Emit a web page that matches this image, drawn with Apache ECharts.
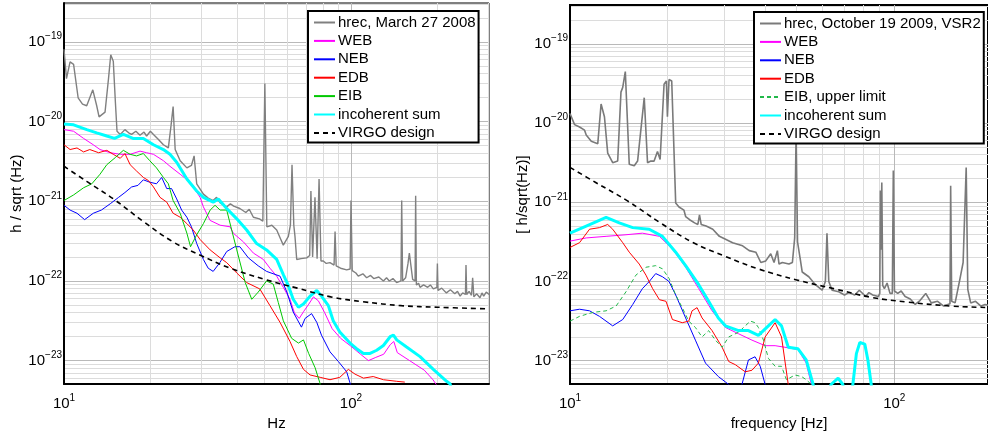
<!DOCTYPE html>
<html>
<head>
<meta charset="utf-8">
<script src="https://cdn.jsdelivr.net/npm/echarts@6/dist/echarts.min.js"></script>
<style>
html, body { margin: 0; padding: 0; background: #fff; }
#chart { width: 988px; height: 436px; }
</style>
</head>
<body>
<div id="chart"></div>
<script>
// Each curve is a list of [frequency in Hz, log10 of h/sqrt(Hz)]

// --- left panel, March 27 2008 ---
const hrec2008 = [[10.0,-19.09],[10.2,-19.46],[10.5,-19.25],[10.8,-19.28],[11.2,-19.70],[11.6,-19.78],[12.0,-19.80],[12.6,-19.60],[13.0,-19.80],[13.25,-19.94],[13.9,-19.88],[14.3,-19.45],[14.55,-19.16],[14.85,-19.24],[15.1,-19.75],[15.3,-20.12],[15.7,-20.16],[16.3,-20.10],[16.8,-20.14],[17.2,-20.16],[17.8,-20.12],[18.4,-20.17],[19.0,-20.13],[19.4,-20.18],[20.0,-20.12],[20.5,-20.16],[21.3,-20.22],[22.2,-20.29],[23.1,-20.33],[23.6,-20.05],[24.0,-19.81],[24.4,-20.35],[25.4,-20.49],[26.8,-20.58],[27.8,-20.55],[28.4,-20.43],[29.0,-20.78],[30.6,-20.91],[31.8,-20.96],[33.1,-20.99],[34.0,-20.95],[35.0,-21.02],[36.9,-21.07],[38.0,-21.03],[39.0,-21.06],[41.0,-21.09],[43.0,-21.14],[44.2,-21.10],[45.7,-21.20],[48.0,-21.22],[49.3,-21.25],[50.1,-19.52],[50.9,-21.32],[53.0,-21.30],[55.1,-21.36],[56.5,-21.45],[58.1,-21.55],[60.5,-21.44],[61.5,-21.30],[62.3,-20.54],[63.2,-21.30],[63.8,-21.44],[64.7,-21.73],[67.0,-21.72],[70.1,-21.71],[71.8,-21.68],[72.5,-20.87],[73.5,-21.70],[74.9,-20.95],[76.2,-21.72],[77.4,-20.72],[78.6,-21.75],[80.1,-21.75],[82.0,-21.78],[84.5,-21.77],[87.3,-21.80],[88.0,-21.38],[88.8,-21.81],[92.0,-21.84],[96.6,-21.86],[99.3,-21.85],[100,-20.99],[101,-21.87],[104,-21.90],[106,-21.94],[110,-21.91],[113.4,-21.96],[117,-21.93],[120,-21.97],[125,-21.95],[129.7,-22.00],[133,-21.96],[136,-22.00],[140,-21.97],[144.2,-22.02],[149.3,-22.00],[150.2,-20.99],[151.3,-22.00],[155,-21.96],[158,-21.78],[159.7,-21.65],[161,-21.75],[164,-21.98],[167.2,-22.00],[168,-20.93],[169,-22.05],[172,-22.03],[174,-22.08],[179,-22.05],[185,-22.08],[189,-22.05],[193.6,-22.10],[199.2,-22.08],[200,-21.78],[201,-22.12],[207,-22.09],[215,-22.15],[222,-22.11],[230,-22.16],[235,-22.13],[240,-22.19],[245,-22.15],[250.5,-22.17],[251.6,-21.80],[253,-22.17],[258,-22.13],[263,-22.18],[265.4,-21.96],[268,-22.20],[274,-22.16],[281.5,-22.21],[286,-22.15],[290,-22.19],[296,-22.14],[303,-22.17]];
const web2008 = [[10,-20.10],[10.8,-20.12],[11.7,-20.21],[12.65,-20.29],[13.35,-20.35],[14.5,-20.39],[15.7,-20.41],[17.0,-20.41],[18.4,-20.37],[19.4,-20.39],[20.5,-20.41],[22.2,-20.49],[23.4,-20.56],[25.4,-20.66],[27.5,-20.76],[29.8,-20.95],[30.6,-21.07],[32.3,-21.24],[35.0,-21.30],[37.9,-21.32],[38.9,-21.40],[42.2,-21.51],[45.7,-21.65],[49.5,-21.73],[52.2,-21.84],[55.1,-21.94],[58.1,-22.08],[61.3,-22.23],[63.5,-22.40],[66.0,-22.47],[68.5,-22.38],[71.0,-22.30],[74.0,-22.20],[77.0,-22.25],[81.0,-22.40],[86.0,-22.60],[92.0,-22.72],[100,-22.82],[108,-22.92],[115,-23.00],[122,-22.96],[130,-22.92],[137,-22.80],[141,-22.76],[145,-22.90],[160,-23.00],[180,-23.12],[193,-23.24],[200,-23.32]];
const neb2008 = [[10,-21.05],[10.5,-21.11],[11.1,-21.15],[11.8,-21.23],[12.65,-21.15],[13.5,-21.11],[14.5,-21.03],[15.5,-20.95],[16.3,-20.89],[17.2,-20.82],[18.1,-20.80],[18.9,-20.73],[19.9,-20.76],[21.0,-20.78],[21.9,-20.70],[22.8,-20.84],[23.7,-20.84],[24.7,-20.97],[25.7,-21.11],[26.8,-21.20],[27.8,-21.32],[29.0,-21.53],[30.6,-21.73],[31.8,-21.84],[33.1,-21.88],[34.9,-21.77],[36.9,-21.63],[39.4,-21.57],[41.0,-21.57],[43.9,-21.71],[47.5,-21.81],[50.8,-21.88],[56.6,-21.94],[59.8,-22.14],[62.9,-22.39],[67.2,-22.58],[69.2,-22.47],[72.9,-22.41],[76.0,-22.52],[78.9,-22.68],[84.5,-22.89],[90.3,-23.01],[96.6,-23.14],[99.2,-23.28],[101,-23.4]];
const edb2008 = [[10,-20.29],[10.5,-20.35],[11.1,-20.33],[11.7,-20.38],[12.3,-20.35],[13.2,-20.39],[14.1,-20.36],[14.85,-20.41],[15.7,-20.46],[16.3,-20.40],[17.0,-20.54],[17.9,-20.62],[18.9,-20.70],[19.7,-20.74],[20.5,-20.82],[21.6,-20.95],[22.8,-21.01],[24.0,-21.15],[25.4,-21.20],[26.8,-21.28],[28.2,-21.36],[29.8,-21.48],[32.3,-21.61],[35.0,-21.71],[36.9,-21.77],[40.0,-21.90],[43.3,-22.02],[48.1,-22.10],[52.2,-22.31],[56.6,-22.52],[61.3,-22.76],[64.7,-22.95],[68.3,-23.11],[72.0,-23.18],[78.1,-23.21],[84.5,-23.24],[91.4,-23.21],[97.9,-23.11],[103.3,-23.17],[110.5,-23.22],[119.5,-23.20],[129.7,-23.24],[144.3,-23.26],[154,-23.27]];
const eib2008 = [[10,-20.99],[10.8,-20.92],[11.7,-20.83],[12.5,-20.78],[13.35,-20.66],[14.1,-20.54],[15.1,-20.45],[16.1,-20.36],[17.0,-20.41],[17.9,-20.43],[18.9,-20.40],[19.9,-20.49],[21.0,-20.58],[22.2,-20.70],[23.1,-20.78],[24.0,-20.99],[25.4,-21.15],[26.8,-21.40],[27.6,-21.57],[29.0,-21.42],[30.6,-21.28],[32.3,-21.11],[33.6,-21.05],[35.0,-21.11],[36.9,-21.11],[38.4,-21.36],[40.0,-21.61],[42.8,-22.02],[45.1,-22.23],[47.5,-22.14],[50.8,-22.00],[53.6,-22.04],[55.8,-22.27],[58.1,-22.50],[62.1,-22.72],[65.6,-22.78],[68.3,-22.74],[71.2,-22.91],[75.0,-23.09],[77.9,-23.28],[79,-23.4]];
const sum2008 = [[10,-20.03],[10.8,-20.04],[12.0,-20.10],[13.0,-20.14],[14.1,-20.18],[15.0,-20.21],[16.1,-20.16],[17.4,-20.21],[18.9,-20.21],[20.5,-20.29],[22.2,-20.35],[23.4,-20.41],[24.7,-20.51],[26.8,-20.72],[29.0,-20.87],[30.6,-20.95],[33.1,-21.01],[34.5,-20.97],[36.9,-21.09],[40.0,-21.22],[43.3,-21.36],[46.9,-21.53],[50.8,-21.61],[55.1,-21.73],[58.1,-21.92],[60.5,-22.06],[62.9,-22.23],[65.6,-22.33],[68.3,-22.29],[72.0,-22.19],[76.0,-22.12],[78.9,-22.19],[83.4,-22.31],[86.7,-22.50],[91.4,-22.64],[99.2,-22.78],[104.6,-22.85],[110.5,-22.91],[116.5,-22.91],[122.9,-22.87],[129.7,-22.81],[136.9,-22.70],[140.6,-22.68],[144.3,-22.74],[156.2,-22.83],[174,-22.95],[193.6,-23.11],[215.4,-23.26],[221.3,-23.29],[226,-23.4]];

// --- right panel, October 19 2009, VSR2 ---
const hrec2009 = [[10.0,-19.88],[10.33,-20.02],[10.7,-20.05],[11.09,-20.09],[11.22,-20.15],[11.63,-20.23],[12.18,-20.26],[12.47,-19.76],[12.77,-19.92],[13.07,-20.38],[13.54,-20.50],[14.03,-20.48],[14.36,-19.61],[14.54,-19.55],[14.81,-19.35],[15.23,-20.52],[15.78,-20.54],[16.16,-20.48],[16.35,-20.50],[16.94,-19.68],[17.34,-20.50],[17.75,-20.48],[18.17,-20.48],[18.61,-20.36],[18.96,-20.46],[19.5,-19.51],[19.83,-19.47],[19.97,-19.92],[20.2,-19.45],[20.59,-19.47],[21.18,-21.01],[21.68,-21.06],[22.46,-21.10],[22.73,-21.18],[23.38,-21.22],[24.22,-21.26],[24.79,-21.28],[25.08,-21.16],[25.38,-21.28],[26.29,-21.30],[27.56,-21.34],[28.88,-21.43],[30.28,-21.47],[31.73,-21.51],[32.87,-21.53],[34.06,-21.55],[35.7,-21.61],[37.41,-21.63],[38.76,-21.76],[40.15,-21.74],[41.59,-21.65],[42.58,-21.76],[43.6,-21.61],[44.11,-21.78],[45.16,-21.76],[47.33,-21.78],[48.5,-21.76],[49.3,-21.45],[49.8,-20.1],[50.3,-21.50],[51.2,-21.70],[52.0,-21.88],[54.5,-21.94],[57.1,-22.04],[59.9,-22.11],[61.3,-22.00],[62.0,-21.39],[62.8,-22.00],[64.3,-22.11],[67.4,-22.13],[70.2,-22.17],[72.5,-22.14],[75.5,-22.17],[78.0,-22.11],[81.7,-22.19],[83.5,-22.14],[85.8,-22.17],[89.3,-22.19],[90.2,-22.15],[90.6,-20.85],[91.0,-21.6],[91.5,-20.75],[92.1,-22.05],[93.2,-22.09],[95.0,-22.02],[97.0,-22.15],[98.6,-22.15],[99.3,-20.60],[100.1,-22.12],[102.5,-22.15],[105,-22.12],[108,-22.19],[112,-22.22],[116,-22.29],[120,-22.24],[125,-22.15],[130,-22.27],[136,-22.25],[142,-22.31],[148.5,-22.28],[149.2,-20.79],[150.3,-22.25],[154,-22.27],[159.5,-21.96],[163,-21.76],[166.6,-20.56],[168.5,-22.1],[172,-22.27],[178,-22.25],[185,-22.31],[190.5,-22.29],[195,-22.30]];
const web2009 = [[10.0,-21.49],[11.22,-21.45],[12.92,-21.43],[14.88,-21.41],[16.72,-21.39],[18.87,-21.43],[20.69,-21.59],[22.73,-21.82],[24.94,-22.09],[27.42,-22.37],[30.14,-22.58],[33.1,-22.66],[36.4,-22.74],[39.97,-22.81],[42.9,-22.81],[46.0,-22.83],[50.5,-22.86],[53.5,-23.03],[55.5,-23.30],[57,-23.6]];
const neb2009 = [[10.0,-22.37],[10.7,-22.35],[11.49,-22.37],[12.33,-22.44],[13.54,-22.56],[14.54,-22.48],[15.61,-22.29],[16.72,-22.09],[17.55,-22.00],[18.38,-21.90],[19.28,-21.94],[20.2,-22.00],[21.18,-22.17],[22.73,-22.46],[24.36,-22.74],[26.17,-23.03],[28.67,-23.20],[30.86,-23.30],[31.5,-23.6],[33.4,-23.6],[33.9,-23.30],[35.5,-22.99],[37.2,-22.95],[38.6,-23.07],[39.97,-23.30],[40.5,-23.6]];
const edb2009 = [[10.0,-21.57],[10.7,-21.51],[11.49,-21.34],[12.33,-21.32],[13.07,-21.28],[13.54,-21.34],[14.54,-21.51],[15.23,-21.63],[16.35,-21.78],[17.15,-21.92],[17.98,-22.09],[18.87,-22.23],[19.77,-22.25],[20.69,-22.48],[22.19,-22.52],[23.24,-22.50],[23.79,-22.37],[24.65,-22.33],[25.54,-22.46],[27.42,-22.62],[29.45,-22.83],[30.86,-23.01],[32.35,-23.05],[34.7,-23.14],[36.4,-23.12],[38.1,-23.03],[39.97,-22.70],[42.9,-22.52],[44.9,-22.70],[47.1,-23.30],[48,-23.6]];
const eibLimit2009 = [[10.0,-22.50],[10.7,-22.44],[11.76,-22.39],[12.92,-22.37],[13.87,-22.31],[14.88,-22.13],[15.96,-21.92],[17.15,-21.82],[18.38,-21.80],[19.28,-21.84],[20.2,-21.96],[21.18,-22.17],[22.19,-22.33],[23.24,-22.50],[24.36,-22.58],[25.54,-22.70],[26.76,-22.62],[28.07,-22.74],[29.45,-22.83],[30.86,-22.70],[33.1,-22.64],[34.7,-22.56],[36.0,-22.50],[37.2,-22.52],[38.1,-22.58],[39.5,-22.74],[40.9,-22.97],[42.9,-23.07],[44.9,-23.07],[46.5,-23.24],[49.4,-23.18],[51.8,-23.20],[53.5,-23.24],[55.5,-23.30],[57,-23.6]];
const sum2009 = [[10.0,-21.39],[11.22,-21.30],[12.92,-21.19],[14.19,-21.26],[15.61,-21.32],[17.55,-21.34],[19.28,-21.43],[21.18,-21.63],[22.73,-21.80],[24.94,-22.04],[26.76,-22.25],[28.67,-22.46],[30.14,-22.56],[33.1,-22.62],[35.5,-22.62],[38.1,-22.68],[40.9,-22.56],[42.9,-22.48],[44.9,-22.56],[47.1,-22.83],[50.5,-22.85],[53.5,-22.99],[56.2,-23.30],[58,-23.6],[61,-23.6],[63.8,-23.30],[67.1,-23.22],[69.4,-23.30],[71,-23.6],[73,-23.6],[74.5,-23.30],[76.4,-22.91],[78.3,-22.77],[81.1,-22.79],[82.9,-22.99],[84.9,-23.30],[86,-23.6]];

// design sensitivity, same in both panels
const virgoDesign = [[10,-20.56],[12,-20.75],[15,-20.98],[19,-21.26],[24,-21.51],[30,-21.68],[38,-21.84],[50,-21.98],[65,-22.09],[85,-22.20],[110,-22.26],[150,-22.31],[200,-22.33],[300,-22.35]];

// tick labels
const xTickHz = [10, 100];
const yTickExp = [-23, -22, -21, -20, -19];

const FONT = '"Liberation Sans", Arial, Helvetica, sans-serif';
const yMin = -23.295, yMax = -18.51;
const xMaxA = Math.log10(302.6), xMaxB = Math.log10(194.5);

// log grid lines (2..9 inside each decade)
function minorLines(lo, hi, min, max) {
    const out = [];
    for (let d = lo; d <= hi; d++) {
        for (let k = 2; k <= 9; k++) {
            const v = d + Math.log10(k);
            if (v > min && v < max) out.push(v);
        }
    }
    return out;
}

const majorX = xTickHz.map(f => Math.log10(f));
const minorXA = minorLines(1, 2, 1, xMaxA);
const minorXB = minorLines(1, 2, 1, xMaxB);
const minorY = minorLines(-24, -19, yMin, yMax);

const rich = {
    a: { fontSize: 15, fontFamily: FONT, color: '#000' },
    e: { fontSize: 10, fontFamily: FONT, color: '#000', padding: [0, 0, 11, 0] }
};

function xAxes(grid, xMax, minor, name) {
    return [
        {
            type: 'value', gridIndex: grid, min: 1, max: xMax, position: 'top',
            axisLine: { show: false }, axisLabel: { show: false },
            axisTick: { show: false, customValues: minor },
            splitLine: { show: true, lineStyle: { color: '#dcdcdc', width: 1 } }
        },
        {
            type: 'value', gridIndex: grid, min: 1, max: xMax, position: 'bottom',
            axisLine: { show: true, onZero: false, lineStyle: { color: '#000', width: 2 } },
            axisTick: { show: false, customValues: majorX },
            axisLabel: {
                customValues: majorX, margin: 9, rich: rich,
                formatter: v => '{a|10}{e|' + Math.round(v) + '}'
            },
            splitLine: { show: true, lineStyle: { color: '#b9b9b9', width: 1 } },
            name: name, nameLocation: 'middle', nameGap: 24,
            nameTextStyle: { fontSize: 15, fontFamily: FONT, color: '#000' }
        }
    ];
}

function yAxes(grid, name) {
    return [
        {
            type: 'value', gridIndex: grid, min: yMin, max: yMax, position: 'right',
            axisLine: { show: false }, axisLabel: { show: false },
            axisTick: { show: false, customValues: minorY },
            splitLine: { show: true, lineStyle: { color: '#dcdcdc', width: 1 } }
        },
        {
            type: 'value', gridIndex: grid, min: yMin, max: yMax, position: 'left',
            axisLine: { show: true, onZero: false, lineStyle: { color: '#000', width: 2 } },
            axisTick: { show: false, customValues: yTickExp },
            axisLabel: {
                customValues: yTickExp, margin: 2, rich: rich,
                formatter: v => '{a|10}{e|\u2212' + Math.round(-v) + '}'
            },
            splitLine: { show: true, lineStyle: { color: '#b9b9b9', width: 1 } },
            name: name, nameLocation: 'middle', nameGap: 40, nameRotate: 90,
            nameTextStyle: { fontSize: 15, fontFamily: FONT, color: '#000' }
        }
    ];
}

function curve(name, pts, color, width, panel, dash) {
    return {
        type: 'line', name: name,
        xAxisIndex: panel * 2 + 1, yAxisIndex: panel * 2 + 1,
        data: pts.map(p => [Math.log10(p[0]), p[1]]),
        symbol: 'none', silent: true, clip: true,
        smooth: name === 'VIRGO design' ? 0.4 : false,
        lineStyle: { color: color, width: width, type: dash || 'solid' },
        itemStyle: { color: color },
        emphasis: { disabled: true }
    };
}

const namesA = ['hrec, March 27 2008', 'WEB', 'NEB', 'EDB', 'EIB', 'incoherent sum', 'VIRGO design'];
const namesB = ['hrec, October 19 2009, VSR2', 'WEB', 'NEB', 'EDB', 'EIB, upper limit', 'incoherent sum', 'VIRGO design'];

function legend(names, left, top) {
    return {
        data: names, left: left, top: top, orient: 'vertical',
        itemWidth: 21, itemHeight: 14, itemGap: 3.4,
        padding: [4, 3, 2, 5],
        backgroundColor: '#fff', borderColor: '#000', borderWidth: 2,
        selectedMode: false,
        // hide the marker dot, keep only the line sample
        itemStyle: { opacity: 0 },
        textStyle: { fontSize: 15, fontFamily: FONT, color: '#000', lineHeight: 14, padding: [0, 0, 0, -2] }
    };
}

const chart = echarts.init(document.getElementById('chart'));
chart.setOption({
    animation: false,
    backgroundColor: '#fff',
    grid: [
        { left: 64, top: 3, width: 425, height: 386, show: true, borderColor: '#000', borderWidth: 1 },
        { left: 570, top: 5, width: 421, height: 387, show: true, borderColor: '#000', borderWidth: 2 }
    ],
    xAxis: xAxes(0, xMaxA, minorXA, 'Hz').concat(xAxes(1, xMaxB, minorXB, 'frequency [Hz]')),
    yAxis: yAxes(0, 'h / sqrt (Hz)').concat(yAxes(1, '[ h/sqrt(Hz)]')),
    legend: [legend(namesA, 308, 11), legend(namesB, 754, 12)],
    series: [
        curve(namesA[0], hrec2008, '#808080', 1.4, 0),
        curve('WEB', web2008, '#ff00ff', 1, 0),
        curve('NEB', neb2008, '#0000ff', 1, 0),
        curve('EDB', edb2008, '#ff0000', 1, 0),
        curve('EIB', eib2008, '#00c800', 1, 0),
        curve('incoherent sum', sum2008, '#00ffff', 3, 0),
        curve('VIRGO design', virgoDesign, '#000', 1.6, 0, [5, 4]),

        curve(namesB[0], hrec2009, '#7a7a7a', 1.6, 1),
        curve('WEB', web2009, '#ff00ff', 1, 1),
        curve('NEB', neb2009, '#0000ff', 1, 1),
        curve('EDB', edb2009, '#ff0000', 1, 1),
        curve('EIB, upper limit', eibLimit2009, '#22b84a', 1, 1, [4, 3]),
        curve('incoherent sum', sum2009, '#00ffff', 3, 1),
        curve('VIRGO design', virgoDesign, '#000', 1.6, 1, [5, 4])
    ]
});
</script>
</body>
</html>
